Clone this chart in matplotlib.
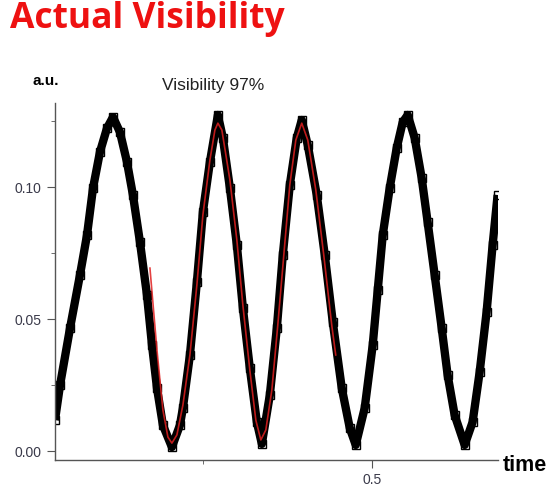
import numpy as np
import matplotlib.pyplot as plt
from matplotlib.ticker import FixedLocator

t_meas = [0.031, 0.0385, 0.0533, 0.068, 0.0784, 0.0873, 0.0976, 0.108, 0.1169,
          0.1272, 0.1376, 0.1464, 0.1568, 0.1672, 0.1746, 0.182, 0.1908, 0.2041,
          0.216, 0.2204, 0.2308, 0.2411, 0.25, 0.2604, 0.2722, 0.2796, 0.29,
          0.3003, 0.3092, 0.3195, 0.3299, 0.3373, 0.3491, 0.3595, 0.3683, 0.3787,
          0.389, 0.3964, 0.4053, 0.4186, 0.4305, 0.4423, 0.4556, 0.4675, 0.4763,
          0.4896, 0.5015, 0.5089, 0.5163, 0.5266, 0.537, 0.5459, 0.5533, 0.5636,
          0.574, 0.5828, 0.5932, 0.6036, 0.6124, 0.6228, 0.6376, 0.6494, 0.6598,
          0.6701, 0.679, 0.6864]
v_meas = [0.0117, 0.025, 0.0466, 0.0667, 0.0818, 0.0996, 0.1133, 0.1223, 0.1265,
          0.1208, 0.1095, 0.097, 0.0792, 0.0591, 0.0402, 0.0239, 0.0098, 0.0015,
          0.0098, 0.0163, 0.0364, 0.064, 0.0905, 0.1095, 0.1273, 0.1186, 0.0996,
          0.078, 0.0542, 0.0314, 0.011, 0.0027, 0.0212, 0.0466, 0.0742, 0.1008,
          0.1186, 0.1254, 0.1159, 0.097, 0.0742, 0.0489, 0.0239, 0.0087, 0.0023,
          0.0163, 0.0402, 0.061, 0.0818, 0.0996, 0.1148, 0.1246, 0.1273, 0.1186,
          0.1034, 0.0867, 0.0667, 0.0466, 0.0288, 0.0136, 0.0023, 0.011, 0.0299,
          0.0527, 0.078, 0.097]

# fitted curve
t_fit = [0.1716, 0.182, 0.1908, 0.1982, 0.2041, 0.2115, 0.2204, 0.2308, 0.2411,
         0.25, 0.2604, 0.2678, 0.2722, 0.2781, 0.29, 0.3003, 0.3092, 0.3195,
         0.3284, 0.3358, 0.3432, 0.3521, 0.3609, 0.3698, 0.3787, 0.3876, 0.3964,
         0.4053, 0.4172, 0.429, 0.4408, 0.4467]
v_fit = [0.0693, 0.0383, 0.0155, 0.0053, 0.003, 0.0061, 0.0174, 0.0364, 0.0629,
         0.0894, 0.1102, 0.1216, 0.1242, 0.1216, 0.1027, 0.0799, 0.0553, 0.0307,
         0.0117, 0.0042, 0.008, 0.0231, 0.0477, 0.0742, 0.1008, 0.1178, 0.1242,
         0.1178, 0.0989, 0.0742, 0.0477, 0.0364]

fig = plt.figure(figsize=(5.56, 4.91), dpi=100)
ax = fig.add_axes([0.0989, 0.0631, 0.7968, 0.7269])

ax.plot(t_meas, v_meas, color="black", lw=6, solid_joinstyle="round",
        solid_capstyle="butt")
ax.plot(t_meas, v_meas, ls="none", marker="s", ms=6, mfc="none", mec="black", mew=1)
ax.plot(t_fit, v_fit, color="#e02020", lw=1.2, alpha=0.85)

ax.set_xlim(0.031, 0.687)
ax.set_ylim(-0.0034, 0.1318)

for s in ["top", "right"]:
    ax.spines[s].set_visible(False)
for s in ["left", "bottom"]:
    ax.spines[s].set_color("#555555")
    ax.spines[s].set_linewidth(1.0)

ax.yaxis.set_major_locator(FixedLocator([0.0, 0.05, 0.10]))
ax.yaxis.set_minor_locator(FixedLocator([0.025, 0.075, 0.125]))
ax.xaxis.set_major_locator(FixedLocator([0.5]))
ax.xaxis.set_minor_locator(FixedLocator([0.25]))
ax.set_yticklabels(["0.00", "0.05", "0.10"])
ax.set_xticklabels(["0.5"])
ax.tick_params(which="major", length=6, color="#555555", labelsize=10,
               labelcolor="#3a3a4a")
ax.tick_params(which="minor", length=3, color="#555555")
for lab in ax.get_xticklabels() + ax.get_yticklabels():
    lab.set_family("Liberation Sans")

fig.text(0.018, 0.962, "Actual Visibility", color="#ee1111", fontsize=25.5,
         fontweight="bold", family="Open Sans", va="center", ha="left")
fig.text(0.058, 0.836, "a.u.", fontsize=11, fontweight="bold",
         family="Liberation Sans", va="center", ha="left")
fig.text(0.291, 0.826, "Visibility 97%", fontsize=12.5, family="Liberation Sans",
         va="center", ha="left", color="#222222")
fig.text(0.904, 0.051, "time", fontsize=15.5, fontweight="bold",
         family="Liberation Sans", va="center", ha="left")

fig.savefig("out.png", dpi=100)
